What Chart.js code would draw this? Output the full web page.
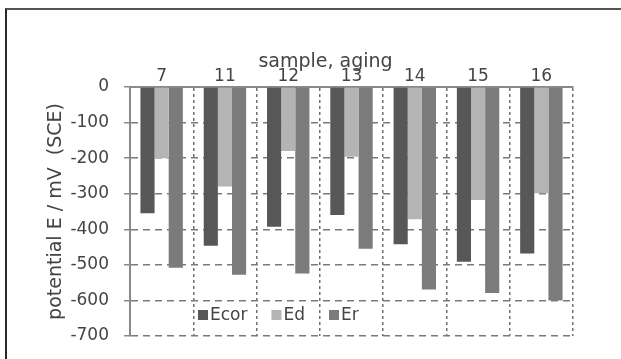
<!DOCTYPE html>
<html>
<head>
<meta charset="utf-8">
<script src="https://cdn.jsdelivr.net/npm/chart.js@4/dist/chart.umd.min.js"></script>
<style>
  html, body { margin: 0; padding: 0; background: #fff; }
  #wrap { position: relative; width: 621px; height: 359px; }
  #frame { position: absolute; left: 5px; top: 8px; right: 0; bottom: 0; border-left: 2px solid #2a2a2a; border-top: 2px solid #555; }
  canvas { position: absolute; left: 0; top: 0; }
</style>
</head>
<body>
<div id="wrap">
  <canvas id="myChart" width="621" height="359"></canvas>
  <div id="frame"></div>
</div>
<script>
const samples = ['7', '11', '12', '13', '14', '15', '16'];
const ecor = [-355, -446, -393, -360, -442, -491, -468];
const ed = [-200, -280, -180, -196, -372, -318, -299];
const er = [-508, -528, -524, -455, -569, -579, -600];
const xTitle = 'sample, aging';

const fontName = '"DejaVu Sans", sans-serif';
const textColor = '#444';

// legend sits inside the plot, near the bottom
const legendInside = {
    id: 'legendInside',
    afterDatasetsDraw(chart) {
        const { ctx, chartArea } = chart;
        let x = chartArea.left + 68;
        const y = chartArea.bottom - 21;
        ctx.save();
        ctx.font = '17px ' + fontName;
        ctx.textBaseline = 'middle';
        chart.data.datasets.forEach(ds => {
            ctx.fillStyle = ds.backgroundColor;
            ctx.fillRect(x, y - 5, 10, 10);
            x += 12;
            ctx.fillStyle = textColor;
            ctx.fillText(ds.label, x, y + 1);
            x += ctx.measureText(ds.label).width + 24;
        });
        ctx.restore();
    }
};

// axis title is a bit left of the plot centre in the original
const topTitle = {
    id: 'topTitle',
    afterDraw(chart) {
        const { ctx, chartArea } = chart;
        ctx.save();
        ctx.font = '19px ' + fontName;
        ctx.fillStyle = textColor;
        ctx.textAlign = 'center';
        ctx.textBaseline = 'middle';
        ctx.fillText(xTitle, (chartArea.left + chartArea.right) / 2 - 26, chartArea.top - 25);
        ctx.restore();
    }
};

const ctx = document.getElementById('myChart').getContext('2d');
const myChart = new Chart(ctx, {
    type: 'bar',
    data: {
        labels: samples,
        datasets: [
            { label: 'Ecor', data: ecor, backgroundColor: '#575757' },
            { label: 'Ed', data: ed, backgroundColor: '#b4b4b4' },
            { label: 'Er', data: er, backgroundColor: '#7b7b7b' }
        ]
    },
    options: {
        responsive: false,
        animation: false,
        layout: { padding: { left: 41, right: 48, top: 44, bottom: 23 } },
        datasets: {
            bar: { categoryPercentage: 0.67, barPercentage: 1.0 }
        },
        plugins: {
            legend: { display: false },
            tooltip: { enabled: false }
        },
        scales: {
            x: {
                position: 'top',
                afterFit: s => { s.height = 43; },
                ticks: {
                    color: textColor,
                    font: { family: fontName, size: 17 },
                    padding: 0
                },
                grid: {
                    color: '#707070',
                    lineWidth: 1.5,
                    drawTicks: false
                },
                border: { color: '#8a8a8a', width: 2, dash: [3, 3] }
            },
            y: {
                min: -700,
                max: 0,
                afterFit: s => {
                    s.width = 89;
                    // tick padding would otherwise push the plot bottom up
                    s.paddingTop = 0;
                    s.paddingBottom = 0;
                },
                title: {
                    display: true,
                    text: 'potential E / mV  (SCE)',
                    color: textColor,
                    font: { family: fontName, size: 19 },
                    padding: { top: 4, bottom: 0 }
                },
                ticks: {
                    stepSize: 100,
                    color: textColor,
                    font: { family: fontName, size: 17 },
                    padding: 15
                },
                grid: {
                    color: '#7a7a7a',
                    lineWidth: 1.5,
                    tickLength: 6,
                    tickColor: '#8a8a8a',
                    tickWidth: 1.5
                },
                border: { color: '#8a8a8a', width: 2, dash: [7, 5] }
            }
        }
    },
    plugins: [legendInside, topTitle]
});
</script>
</body>
</html>
